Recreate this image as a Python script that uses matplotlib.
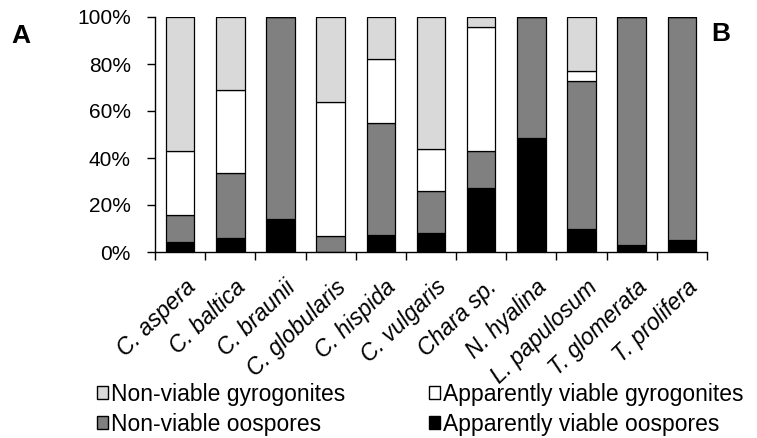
import matplotlib
matplotlib.use("Agg")
import matplotlib.pyplot as plt
import matplotlib.transforms as mtransforms
import numpy as np
from matplotlib.patches import Patch

plt.rcParams['font.family'] = ['Liberation Sans', 'DejaVu Sans']

species = ["C. aspera", "C. baltica", "C. braunii", "C. globularis", "C. hispida",
           "C. vulgaris", "Chara sp.", "N. hyalina", "L. papulosum", "T. glomerata",
           "T. prolifera"]
# percentages (each bar sums to 100)
viable_oospores = [4.3, 6.1, 13.9, 0.0, 7.1, 8.1, 27.2, 48.3, 10.0, 2.9, 5.3]
nonviable_oospores = [11.3, 27.7, 86.1, 6.8, 47.7, 17.9, 15.7, 51.7, 62.6, 97.1, 94.7]
viable_gyro = [27.4, 35.1, 0.0, 57.2, 27.2, 18.0, 52.8, 0.0, 4.3, 0.0, 0.0]
nonviable_gyro = [57.0, 31.1, 0.0, 36.0, 18.0, 56.0, 4.3, 0.0, 23.1, 0.0, 0.0]
yticks = [0, 20, 40, 60, 80, 100]
ytick_labels = ["0%", "20%", "40%", "60%", "80%", "100%"]

fig = plt.figure(figsize=(7.57, 4.38), dpi=100)
ax = fig.add_axes([155/757, 1-252/438, (707-155)/757, (252-17)/438])

x = np.arange(len(species))
w = 0.57
series = [
    (viable_oospores, "#000000", "Apparently viable oospores"),
    (nonviable_oospores, "#808080", "Non-viable oospores"),
    (viable_gyro, "#ffffff", "Apparently viable gyrogonites"),
    (nonviable_gyro, "#d9d9d9", "Non-viable gyrogonites"),
]
bottom = np.zeros(len(species))
for vals, col, lab in series:
    v = np.array(vals)
    ax.bar(x, v, w, bottom=bottom, color=col, edgecolor="black", linewidth=0.9, zorder=2)
    bottom += v

ax.set_xlim(-0.5, len(species) - 0.5)
ax.set_ylim(0, 100)
ax.set_yticks(yticks)
ax.set_yticklabels(ytick_labels, fontsize=15)
ax.set_xticks(x)
ax.set_xticklabels(species, rotation=44, ha="right", rotation_mode="anchor",
                   fontsize=16.5, style="italic")
ax.tick_params(axis="x", which="major", length=0, pad=17)
offset = mtransforms.ScaledTranslation(4/100, 0, fig.dpi_scale_trans)
for lbl in ax.get_xticklabels():
    lbl.set_transform(lbl.get_transform() + offset)
ax.set_xticks(np.arange(-0.5, len(species), 1.0), minor=True)
ax.tick_params(axis="x", which="minor", length=6, direction="out", width=1)
ax.tick_params(axis="y", length=6, direction="out", width=1, pad=11.5)
for s in ["top", "right"]:
    ax.spines[s].set_visible(False)
for s in ["left", "bottom"]:
    ax.spines[s].set_linewidth(1.0)

fig.text(11/757, 1-43/438, "A", fontsize=19, fontweight="bold")
fig.text(711/757, 1-41/438, "B", fontsize=19, fontweight="bold")

def handle(col):
    return Patch(facecolor=col, edgecolor="black", linewidth=1.0)

leg_kw = dict(frameon=False, fontsize=16.5, handlelength=0.5, handleheight=0.5,
              handletextpad=0.12, labelspacing=0.3, borderpad=0, borderaxespad=0)
l1 = fig.legend([handle("#d9d9d9"), handle("#808080")],
                ["Non-viable gyrogonites", "Non-viable oospores"],
                loc="upper left", bbox_to_anchor=(97/757, 1-383/438), **leg_kw)
l2 = fig.legend([handle("#ffffff"), handle("#000000")],
                ["Apparently viable gyrogonites", "Apparently viable oospores"],
                loc="upper left", bbox_to_anchor=(429/757, 1-383/438), **leg_kw)

fig.savefig("out.png", dpi=100)
